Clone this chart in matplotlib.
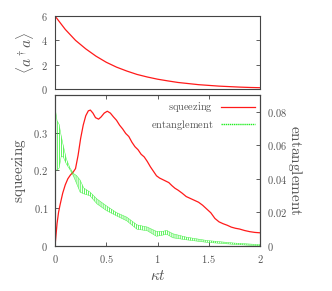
import numpy as np
import matplotlib
matplotlib.use('Agg')
import matplotlib.pyplot as plt
from matplotlib.ticker import FuncFormatter

plt.rcParams['mathtext.fontset'] = 'cm'
plt.rcParams['hatch.linewidth'] = 0.5

# --- photon number (top panel) ---
t_n = [0.0, 0.1, 0.2, 0.3, 0.4, 0.5, 0.6, 0.7, 0.8, 0.9, 1.0,
       1.1, 1.2, 1.3, 1.4, 1.5, 1.6, 1.7, 1.8, 1.9, 2.0]
n_photon = [6.0, 4.9, 4.0, 3.3, 2.7, 2.2, 1.8, 1.48, 1.2, 0.99, 0.81,
            0.67, 0.54, 0.45, 0.36, 0.30, 0.24, 0.20, 0.16, 0.13, 0.11]

# --- squeezing (bottom panel, left axis) ---
t_sq = [0.000, 0.010, 0.020, 0.035, 0.050, 0.075, 0.100, 0.125, 0.150, 0.175,
        0.200, 0.225, 0.250, 0.275, 0.300, 0.325, 0.345, 0.370, 0.395, 0.425,
        0.450, 0.480, 0.510, 0.540, 0.570, 0.600, 0.630, 0.660, 0.690, 0.720,
        0.750, 0.780, 0.810, 0.840, 0.870, 0.900, 0.930, 0.960, 0.990, 1.020,
        1.050, 1.080, 1.110, 1.140, 1.170, 1.200, 1.240, 1.280, 1.320, 1.360,
        1.400, 1.440, 1.480, 1.520, 1.560, 1.600, 1.640, 1.680, 1.720, 1.760,
        1.800, 1.850, 1.900, 1.950, 2.000]
squeezing = [0.000, 0.030, 0.060, 0.090, 0.110, 0.140, 0.162, 0.178, 0.188, 0.195,
             0.205, 0.240, 0.285, 0.320, 0.345, 0.358, 0.360, 0.352, 0.340, 0.336,
             0.342, 0.352, 0.357, 0.352, 0.342, 0.333, 0.320, 0.310, 0.298, 0.290,
             0.275, 0.263, 0.255, 0.243, 0.236, 0.224, 0.210, 0.198, 0.186, 0.180,
             0.176, 0.172, 0.168, 0.160, 0.153, 0.148, 0.140, 0.131, 0.126, 0.121,
             0.116, 0.108, 0.098, 0.088, 0.073, 0.064, 0.059, 0.055, 0.050, 0.047,
             0.045, 0.041, 0.038, 0.036, 0.035]

# --- entanglement (bottom panel, right axis): fast oscillation band ---
t_ent = [0.000, 0.004, 0.020, 0.040, 0.060, 0.080, 0.110, 0.145, 0.180, 0.210,
         0.245, 0.280, 0.340, 0.410, 0.500, 0.600, 0.700, 0.800, 0.900, 0.990,
         1.050, 1.090, 1.150, 1.280, 1.480, 1.740, 2.000]
ent_hi = [0.0811, 0.0811, 0.0747, 0.0725, 0.0657, 0.0600, 0.0520, 0.0466, 0.0432, 0.0420,
          0.0393, 0.0346, 0.0322, 0.0280, 0.0240, 0.0199, 0.0172, 0.0126, 0.0113, 0.0087,
          0.0087, 0.0093, 0.0073, 0.0053, 0.0033, 0.0018, 0.0008]
ent_lo = [0.0000, 0.0453, 0.0453, 0.0464, 0.0532, 0.0532, 0.0490, 0.0456, 0.0417, 0.0373,
          0.0321, 0.0311, 0.0300, 0.0251, 0.0212, 0.0180, 0.0150, 0.0100, 0.0091, 0.0058,
          0.0065, 0.0070, 0.0049, 0.0037, 0.0022, 0.0010, 0.0001]

red = '#ff1a1a'
green = '#22ee22'
grey = '#555555'
spine = '#444444'

fig = plt.figure(figsize=(3.32, 2.91), dpi=100)
ax_top = fig.add_axes([0.1657, 0.694, 0.6175, 0.251])
ax = fig.add_axes([0.1657, 0.1546, 0.6175, 0.519])
ax2 = ax.twinx()

mfmt = FuncFormatter(lambda v, p: r'$%g$' % round(v, 4))

# top panel
ax_top.plot(t_n, n_photon, color=red, lw=0.9)
ax_top.set_xlim(0, 2)
ax_top.set_ylim(0, 6)
ax_top.set_yticks([0, 2, 4, 6])
ax_top.set_xticks([])
ax_top.yaxis.set_major_formatter(mfmt)
ax_top.tick_params(axis='y', direction='in', length=3, width=0.6, color=spine,
                   labelsize=7.5, labelcolor=grey, pad=5, right=True)
ax_top.set_ylabel(r'$\langle a^\dagger a\rangle$', fontsize=11, color=grey, labelpad=4)

# bottom panel
ax.plot(t_sq, squeezing, color=red, lw=0.9, label=r'$\mathrm{squeezing}$')
ax2.fill_between(t_ent, ent_lo, ent_hi, facecolor='none', edgecolor=green,
                 hatch='||||||||', linewidth=0)
ax2.plot(t_ent, ent_hi, color=green, lw=0.35, alpha=0.8)
ax2.plot(t_ent, ent_lo, color=green, lw=0.35, alpha=0.8)
ent_handle, = ax2.plot([], [], color=green, lw=1.0, ls=(0, (1, 0.5)),
                       label=r'$\mathrm{entanglement}$')

ax.set_xlim(0, 2)
ax.set_ylim(0, 0.4)
ax2.set_ylim(0, 0.09)
ax.set_xticks([0, 0.5, 1, 1.5, 2])
ax.set_yticks([0, 0.1, 0.2, 0.3])
ax2.set_yticks([0, 0.02, 0.04, 0.06, 0.08])
ax.xaxis.set_major_formatter(mfmt)
ax.yaxis.set_major_formatter(mfmt)
ax2.yaxis.set_major_formatter(mfmt)
ax.tick_params(axis='both', direction='in', length=3, width=0.6, color=spine,
               labelsize=7.5, labelcolor=grey, pad=5, top=True)
ax2.tick_params(axis='y', direction='in', length=3, width=0.6, color=spine,
                labelsize=7.5, labelcolor=grey, pad=5)

ax.set_ylabel(r'$\mathrm{squeezing}$', fontsize=11, color=grey, labelpad=4)
ax2.set_ylabel(r'$\mathrm{entanglement}$', fontsize=11, color=grey,
               rotation=270, labelpad=12)
ax.set_xlabel(r'$\kappa t$', fontsize=11, color=grey, labelpad=2)

h1, l1 = ax.get_legend_handles_labels()
leg = ax2.legend(h1 + [ent_handle], l1 + [ent_handle.get_label()],
                 loc='upper right', frameon=False, markerfirst=False,
                 fontsize=7.5, handlelength=3.2, labelspacing=0.35,
                 borderaxespad=0.1, handletextpad=0.8)
for txt in leg.get_texts():
    txt.set_color(grey)

for a in (ax_top, ax, ax2):
    for s in a.spines.values():
        s.set_color(spine)
        s.set_linewidth(0.8)

fig.savefig('out.png', dpi=100)
